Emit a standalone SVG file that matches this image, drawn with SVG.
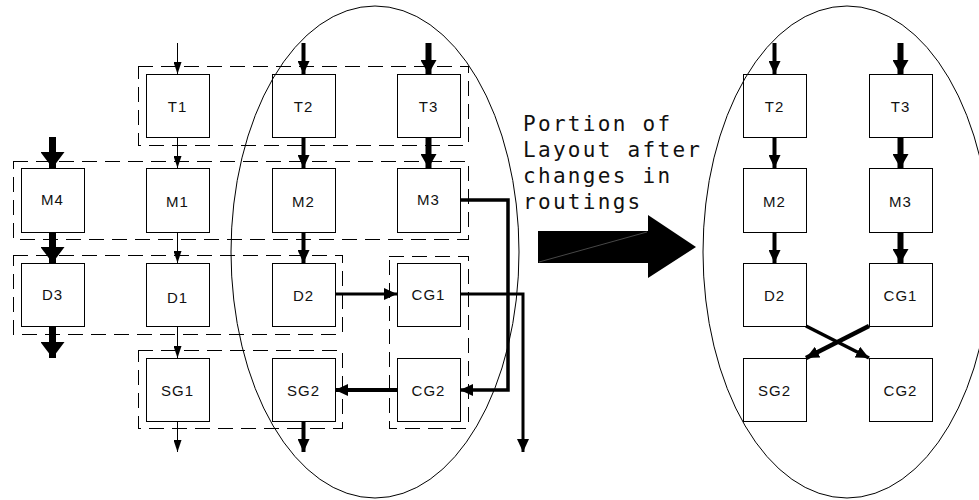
<svg xmlns="http://www.w3.org/2000/svg" width="979" height="500" viewBox="0 0 979 500">
  <style>
    .box { fill: none; stroke: #000; stroke-width: 1; shape-rendering: crispEdges; }
    .grp { fill: none; stroke: #000; stroke-width: 1; stroke-dasharray: 15 8; shape-rendering: crispEdges; }
    .lbl { font-family: "Liberation Sans", Arial, sans-serif; font-size: 15px; text-anchor: middle; fill: #111; letter-spacing: 1px; }
    .note { font-family: "DejaVu Sans Mono", "Liberation Mono", monospace; font-size: 21px; fill: #111; letter-spacing: 2.3px; }
    .oval { fill: none; stroke: #000; stroke-width: 1; }
    .thin { fill: none; stroke: #000; stroke-width: 1; marker-end: url(#hThin); }
    .med { fill: none; stroke: #000; stroke-width: 4; marker-end: url(#hMed); }
    .heavy { fill: none; stroke: #000; stroke-width: 6; marker-end: url(#hHeavy); }
    .large { fill: none; stroke: #000; stroke-width: 7; marker-end: url(#hLarge); }
    .route { fill: none; stroke: #000; stroke-width: 3.5; stroke-linejoin: miter; marker-end: url(#hMed); }
  </style>
  <defs>
    <marker id="hThin" viewBox="0 0 12 8" refX="12" refY="4" markerWidth="12" markerHeight="8" orient="auto" markerUnits="userSpaceOnUse">
      <path d="M0,0 L12,4 L0,8 Z" fill="#000"/>
    </marker>
    <marker id="hMed" viewBox="0 0 13 12" refX="13" refY="6" markerWidth="13" markerHeight="12" orient="auto" markerUnits="userSpaceOnUse">
      <path d="M0,0 L13,6 L0,12 Z" fill="#000"/>
    </marker>
    <marker id="hHeavy" viewBox="0 0 14 16" refX="14" refY="8" markerWidth="14" markerHeight="16" orient="auto" markerUnits="userSpaceOnUse">
      <path d="M0,0 L14,8 L0,16 Z" fill="#000"/>
    </marker>
    <marker id="hLarge" viewBox="0 0 16 24" refX="16" refY="12" markerWidth="16" markerHeight="24" orient="auto" markerUnits="userSpaceOnUse">
      <path d="M0,0 L16,12 L0,24 Z" fill="#000"/>
    </marker>
  </defs>

  <rect width="979" height="500" fill="#fff"/>

  <!-- dashed groupings of the original layout -->
  <g id="groups">
    <rect class="grp" x="138" y="66" width="330" height="79"/>
    <rect class="grp" x="13" y="161" width="455" height="78"/>
    <rect class="grp" x="13" y="255" width="329" height="79"/>
    <rect class="grp" x="138" y="350" width="204" height="78"/>
    <rect class="grp" x="389" y="256" width="79" height="172"/>
  </g>

  <!-- original layout -->
  <g id="T1"><rect class="box" x="146" y="74" width="63" height="63"/><text class="lbl" x="177.5" y="112">T1</text></g>
  <g id="T2"><rect class="box" x="272" y="74" width="63" height="63"/><text class="lbl" x="303.5" y="112">T2</text></g>
  <g id="T3"><rect class="box" x="397" y="74" width="63" height="63"/><text class="lbl" x="428.5" y="112">T3</text></g>
  <g id="M4"><rect class="box" x="21" y="168" width="63" height="64"/><text class="lbl" x="52.5" y="205">M4</text></g>
  <g id="M1"><rect class="box" x="146" y="168" width="63" height="64"/><text class="lbl" x="177.5" y="207">M1</text></g>
  <g id="M2"><rect class="box" x="272" y="168" width="63" height="64"/><text class="lbl" x="303.5" y="207">M2</text></g>
  <g id="M3"><rect class="box" x="397" y="168" width="63" height="64"/><text class="lbl" x="428.5" y="205">M3</text></g>
  <g id="D3"><rect class="box" x="21" y="263" width="63" height="63"/><text class="lbl" x="52.5" y="300">D3</text></g>
  <g id="D1"><rect class="box" x="146" y="263" width="63" height="63"/><text class="lbl" x="177.5" y="303">D1</text></g>
  <g id="D2"><rect class="box" x="272" y="263" width="63" height="63"/><text class="lbl" x="303.5" y="301">D2</text></g>
  <g id="CG1"><rect class="box" x="397" y="263" width="63" height="63"/><text class="lbl" x="428.5" y="300">CG1</text></g>
  <g id="SG1"><rect class="box" x="146" y="358" width="63" height="63"/><text class="lbl" x="177.5" y="396">SG1</text></g>
  <g id="SG2"><rect class="box" x="272" y="358" width="63" height="63"/><text class="lbl" x="303.5" y="396">SG2</text></g>
  <g id="CG2"><rect class="box" x="397" y="358" width="63" height="63"/><text class="lbl" x="428.5" y="396">CG2</text></g>

  <!-- layout after re-routing -->
  <g id="T2b"><rect class="box" x="743" y="74" width="63" height="63"/><text class="lbl" x="774.5" y="112">T2</text></g>
  <g id="T3b"><rect class="box" x="869" y="74" width="63" height="63"/><text class="lbl" x="900.5" y="112">T3</text></g>
  <g id="M2b"><rect class="box" x="743" y="168" width="63" height="64"/><text class="lbl" x="774.5" y="207">M2</text></g>
  <g id="M3b"><rect class="box" x="869" y="168" width="63" height="64"/><text class="lbl" x="900.5" y="207">M3</text></g>
  <g id="D2b"><rect class="box" x="743" y="263" width="63" height="63"/><text class="lbl" x="774.5" y="301">D2</text></g>
  <g id="CG1b"><rect class="box" x="869" y="263" width="63" height="63"/><text class="lbl" x="900.5" y="301">CG1</text></g>
  <g id="SG2b"><rect class="box" x="743" y="358" width="63" height="63"/><text class="lbl" x="774.5" y="396">SG2</text></g>
  <g id="CG2b"><rect class="box" x="869" y="358" width="63" height="63"/><text class="lbl" x="900.5" y="396">CG2</text></g>

  <!-- highlighted portions -->
  <g id="ovals">
    <ellipse class="oval" cx="375" cy="252" rx="144" ry="246"/>
    <ellipse class="oval" cx="847" cy="252" rx="144" ry="246"/>
  </g>

  <!-- caption and transition arrow -->
  <g id="caption">
    <text class="note" x="523" y="131">Portion of</text>
    <text class="note" x="523" y="157">Layout after</text>
    <text class="note" x="523" y="183">changes in</text>
    <text class="note" x="523" y="209">routings</text>
  </g>
  <g id="bigArrow">
    <path d="M538,231 H648 V215 L696,247 L648,278 V263 H538 Z" fill="#000"/>
    <line x1="539" y1="262" x2="647" y2="232" stroke="#777" stroke-width="0.6"/>
  </g>

  <g id="connectors">
    <!-- column 1 -->
    <path class="thin" d="M177.5,43 V74"/>
    <path class="thin" d="M177.5,137 V168"/>
    <path class="thin" d="M177.5,232 V263"/>
    <path class="thin" d="M177.5,326 V358"/>
    <path class="thin" d="M177.5,421 V452"/>
    <!-- column 2 -->
    <path class="med" d="M303.5,43 V74"/>
    <path class="med" d="M303.5,137 V168"/>
    <path class="med" d="M303.5,232 V263"/>
    <path class="med" d="M303.5,421 V452"/>
    <!-- column 3 -->
    <path class="heavy" d="M428.5,43 V74"/>
    <path class="heavy" d="M428.5,137 V168"/>
    <!-- column 0 -->
    <path class="large" d="M52.5,137 V168"/>
    <path class="large" d="M52.5,232 V263"/>
    <path class="large" d="M52.5,326 V358"/>
    <!-- routings -->
    <path class="route" d="M460,200 H508 V390 H460"/>
    <path class="route" style="stroke-width:3" d="M460,294 H523 V452"/>
    <path class="route" style="stroke-width:3" d="M335,294 H397"/>
    <path class="route" style="stroke-width:4" d="M397,390 H335"/>

    <!-- re-routed layout -->
    <path class="med" d="M774.5,43 V74"/>
    <path class="med" d="M774.5,137 V168"/>
    <path class="med" d="M774.5,232 V263"/>
    <path class="heavy" d="M900.5,43 V74"/>
    <path class="heavy" d="M900.5,137 V168"/>
    <path class="heavy" d="M900.5,232 V263"/>
    <path class="route" style="stroke-width:3.5" d="M806,326 L869,358"/>
    <path class="route" style="stroke-width:4.5" d="M869,326 L806,358"/>
  </g>
</svg>
